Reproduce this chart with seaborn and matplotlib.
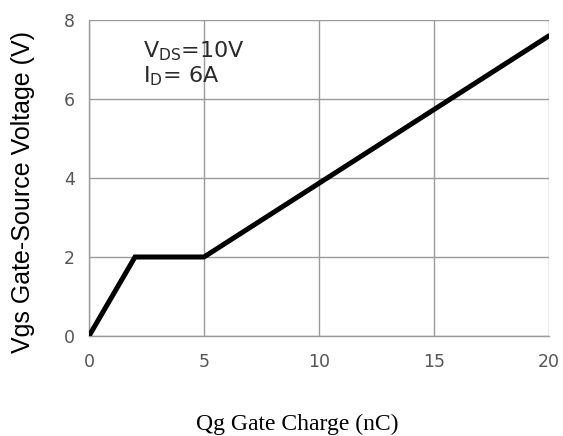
import matplotlib
matplotlib.use("Agg")
import matplotlib.pyplot as plt
import seaborn as sns
import pandas as pd

charge_nc = [0, 2, 5, 20]
vgs_v = [0, 2, 2, 7.6]
x_ticks = [0, 5, 10, 15, 20]
y_ticks = [0, 2, 4, 6, 8]

sns.set_style("white")
plt.rcParams['font.family'] = ['Liberation Sans', 'DejaVu Sans']

fig = plt.figure(figsize=(5.63, 4.36), dpi=100)
ax = fig.add_axes([89/563, 1-336/436, (549-89)/563, (336-20)/436])

df = pd.DataFrame({"Qg": charge_nc, "Vgs": vgs_v})
sns.lineplot(data=df, x="Qg", y="Vgs", ax=ax, color="black", linewidth=3.6,
             solid_capstyle="round", solid_joinstyle="miter", zorder=5)

ax.set_xlim(0, 20)
ax.set_ylim(0, 8)
ax.set_xticks(x_ticks)
ax.set_yticks(y_ticks)
ax.grid(True, color="#9a9a9a", linewidth=1.0)
for s in ["top", "right"]:
    ax.spines[s].set_visible(False)
for s in ["left", "bottom"]:
    ax.spines[s].set_color("#9a9a9a")
    ax.spines[s].set_linewidth(1.0)
ax.tick_params(axis="both", length=0, labelsize=12.5, colors="#555555")
ax.tick_params(axis="x", pad=12)
ax.tick_params(axis="y", pad=10)
for lab in ax.get_xticklabels() + ax.get_yticklabels():
    lab.set_family(["DejaVu Sans"])

ax.set_xlabel("Qg Gate Charge (nC)", family=["Liberation Serif", "DejaVu Serif"],
              fontsize=17, color="black")
ax.xaxis.set_label_coords(0.452, -0.245)
ax.set_ylabel("Vgs Gate-Source Voltage (V)", fontsize=18, color="black")
ax.yaxis.set_label_coords(-0.117, 0.457)

ax.text(2.35, 7.06, r"V$_{\mathregular{DS}}$=10V", fontsize=16, color="#2a2a2a",
        va="baseline", family=["DejaVu Sans"])
ax.text(2.35, 6.41, r"I$_{\mathregular{D}}$= 6A", fontsize=16, color="#2a2a2a",
        va="baseline", family=["DejaVu Sans"])

fig.savefig("out.png", dpi=100)
